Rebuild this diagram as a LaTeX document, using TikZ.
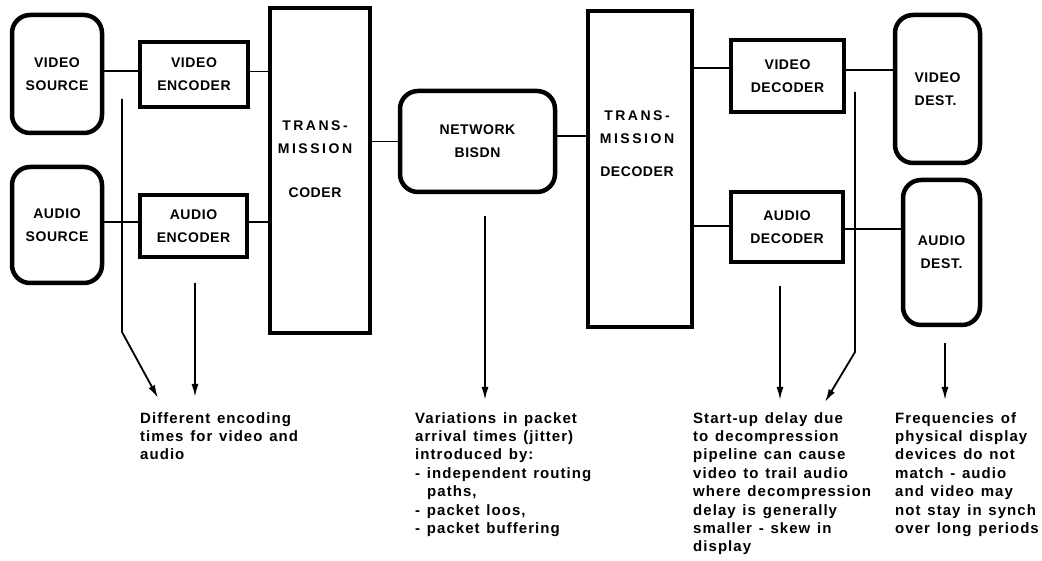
\documentclass[tikz,border=0pt]{standalone}
\usepackage{fontspec}
\setmainfont{Liberation Sans}
\newfontfamily\boxfam[LetterSpace=4]{Liberation Sans}
\newfontfamily\widefam[LetterSpace=18]{Liberation Sans}
\newfontfamily\notefam[LetterSpace=7]{Liberation Sans}
\usetikzlibrary{arrows.meta}

\newcommand\boxtext{\boxfam\bfseries\fontsize{14}{23}\selectfont}
\newcommand\notetext{\notefam\bfseries\fontsize{15}{18.4}\selectfont\spaceskip=0.45em plus 0.1em\relax}

\tikzset{
  rbox/.style={draw, line width=4.5pt, rounded corners=18pt, inner sep=0pt,
               align=center, font=\boxtext},
  sbox/.style={draw, line width=4pt, inner sep=0pt, align=center, font=\boxtext},
  txlabel/.style={anchor=north, inner sep=0pt, align=center, font=\boxtext},
  wire/.style={line width=1.8pt},
  notearrow/.style={line width=1.8pt, -{Latex[length=13pt,width=7pt]}},
  note/.style={anchor=north west, inner sep=0pt, align=left, font=\notetext},
}

\begin{document}
\begin{tikzpicture}[x=1pt,y=-1pt]
\useasboundingbox (0,0) rectangle (1042,561);

% sources and encoders
\node[rbox, minimum width=90pt, minimum height=118pt] (vsrc) at (57,74) {VIDEO\\SOURCE};
\node[sbox, minimum width=108pt, minimum height=65pt] (venc) at (194,74.5) {VIDEO\\ENCODER};
\node[rbox, minimum width=90pt, minimum height=116pt] (asrc) at (57,225) {AUDIO\\SOURCE};
\node[sbox, minimum width=107pt, minimum height=62pt] (aenc) at (193.5,226) {AUDIO\\ENCODER};

% transmission coder
\node[sbox, line width=4.5pt, minimum width=100pt, minimum height=325pt] (txc) at (320,170.5) {};
\node[txlabel] (txcl) at (315,121) {\fontsize{14}{15}\selectfont{\widefam TRANS-}\\{\widefam MISSION}\\[21pt]CODER};

% network
\node[rbox, minimum width=155pt, minimum height=101pt] (net) at (477.5,141.5) {NETWORK\\BISDN};

% transmission decoder
\node[sbox, line width=4.5pt, minimum width=104pt, minimum height=316pt] (txd) at (640,169) {};
\node[txlabel] (txdl) at (637,111) {\fontsize{14}{20}\selectfont{\widefam TRANS-}\\{\widefam MISSION}\\[10pt]DECODER};

% decoders and destinations
\node[sbox, minimum width=113pt, minimum height=72pt] (vdec) at (787.5,76) {VIDEO\\DECODER};
\node[sbox, minimum width=112pt, minimum height=70pt] (adec) at (787,227) {AUDIO\\DECODER};
\node[rbox, align=left, minimum width=85pt, minimum height=148pt] (vdst) at (937.5,89) {VIDEO\\DEST.};
\node[rbox, minimum width=77pt, minimum height=145pt] (adst) at (941.5,252.5) {AUDIO\\DEST.};

% signal path
\draw[wire] ([yshift=3pt]vsrc.east) -- ([yshift=3pt]vsrc.east -| venc.west);
\draw[wire] ([yshift=3pt]venc.east) -- ([yshift=3pt]venc.east -| txc.west);
\draw[wire] ([yshift=3pt]asrc.east) -- ([yshift=3pt]asrc.east -| aenc.west);
\draw[wire] ([yshift=4pt]aenc.east) -- ([yshift=4pt]aenc.east -| txc.west);
\draw[wire] (net.west) -- (net.west -| txc.east);
\draw[wire] ([yshift=5.5pt]net.east) -- ([yshift=5.5pt]net.east -| txd.west);
\draw[wire] ([yshift=8pt]vdec.west) -- ([yshift=8pt]vdec.west -| txd.east);
\draw[wire] ([yshift=1pt]adec.west) -- ([yshift=1pt]adec.west -| txd.east);
\draw[wire] ([yshift=6pt]vdec.east) -- ([yshift=6pt]vdec.east -| vdst.west);
\draw[wire] ([yshift=-2pt]adec.east) -- ([yshift=-2pt]adec.east -| adst.west);

% annotation texts
\node[note] (n1) at (140,412) {Different encoding\\times for video and\\audio};
\node[note] (n2) at (415,412) {Variations in packet\\arrival times (jitter)\\introduced by:\\- independent routing\\\hspace*{12pt}paths,\\- packet loos,\\- packet buffering};
\node[note] (n3) at (693,412) {Start-up delay due\\to decompression\\pipeline can cause\\video to trail audio\\where decompression\\delay is generally\\smaller - skew in\\display};
\node[note] (n4) at (895,412) {Frequencies of\\physical display\\devices do not\\match - audio\\and video may\\not stay in synch\\over long periods};

% annotation arrows
\coordinate (a1s) at (122,99);  \coordinate (a1b) at (122,332); \coordinate (a1e) at (158,398);
\coordinate (a2s) at (195,283); \coordinate (a2e) at (195,397);
\coordinate (a3s) at (485,216); \coordinate (a3e) at (485,400);
\coordinate (a4s) at (780,286); \coordinate (a4e) at (780,400);
\coordinate (a5s) at (855,92);  \coordinate (a5b) at (855,352); \coordinate (a5e) at (825,402);
\coordinate (a6s) at (945,343); \coordinate (a6e) at (945,400);

\draw[notearrow] (a1s) -- (a1b) -- (a1e);
\draw[notearrow] (a2s) -- (a2e);
\draw[notearrow] (a3s) -- (a3e);
\draw[notearrow] (a4s) -- (a4e);
\draw[notearrow] (a5s) -- (a5b) -- (a5e);
\draw[notearrow] (a6s) -- (a6e);
\end{tikzpicture}
\end{document}
